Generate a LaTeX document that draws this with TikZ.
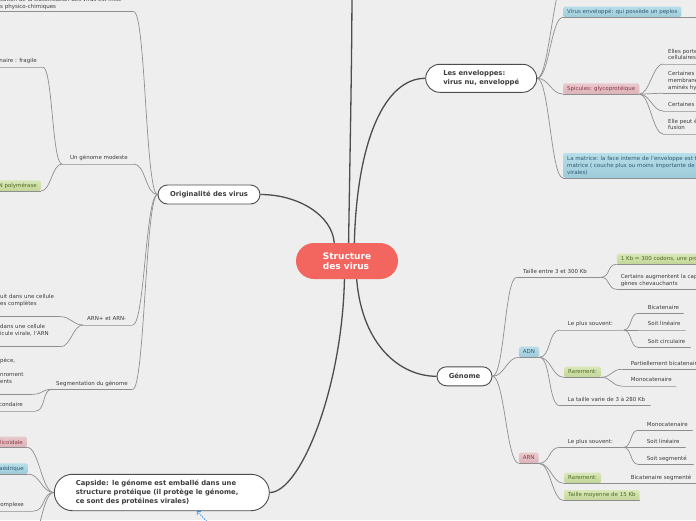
\documentclass[tikz,border=0pt]{standalone}
\usepackage{fontspec}
\setmainfont{DejaVu Sans}
\usetikzlibrary{shapes.misc,arrows.meta,backgrounds}

\definecolor{fond}{HTML}{EEEEEE}
\definecolor{trait}{HTML}{4D4D4D}
\definecolor{gris}{HTML}{8E8E8E}
\definecolor{txt}{HTML}{3C3C3C}
\definecolor{centre}{HTML}{F2665F}
\definecolor{verthaut}{HTML}{D9E7B9}
\definecolor{vertbas}{HTML}{C3D698}
\definecolor{verttxt}{HTML}{4E6B24}
\definecolor{rosehaut}{HTML}{E9C9CD}
\definecolor{rosebas}{HTML}{DDB3B9}
\definecolor{rosetxt}{HTML}{8A3B4A}
\definecolor{bleuhaut}{HTML}{B7DEE9}
\definecolor{bleubas}{HTML}{9ECBD9}
\definecolor{bleutxt}{HTML}{2E5C72}
\definecolor{relbleu}{HTML}{3D8FE0}

\newcommand{\petit}{\fontsize{5.5}{6.8}\selectfont}
\newcommand{\moyen}{\fontsize{6.8}{8.8}\selectfont\bfseries}
\newcommand{\grand}{\fontsize{9}{10.5}\selectfont\bfseries}

\begin{document}
\begin{tikzpicture}[x=1pt, y=-1pt,
    racine/.style={rounded rectangle, fill=centre, text=white, font=\grand, align=left, minimum width=102pt, minimum height=36pt, inner sep=0pt},
    theme/.style={rounded rectangle, draw=trait, line width=0.9pt, fill=white, text=txt, font=\moyen, align=left, inner sep=0pt},
    feuille/.style={font=\petit, text=txt, align=left, inner sep=0pt, text depth=0pt, anchor=south west},
    ligne/.style={draw=gris, line width=0.7pt, line join=round, inner sep=0pt, minimum height=0pt, minimum width=#1, anchor=west},
    boite/.style={font=\petit, rounded corners=1.5pt, inner xsep=4pt, inner ysep=0pt, minimum height=10.5pt, align=left, anchor=south west,
        append after command={(\tikzlastnode.south west) edge[draw=gris, line width=0.6pt] (\tikzlastnode.south east)}},
    vert/.style={boite, top color=verthaut, bottom color=vertbas, text=verttxt},
    rose/.style={boite, top color=rosehaut, bottom color=rosebas, text=rosetxt},
    bleu/.style={boite, top color=bleuhaut, bottom color=bleubas, text=bleutxt},
    lien/.style={draw=gris, line width=0.7pt, to path={.. controls +(#1,0) and +(-#1,0) .. (\tikztotarget)}},
    lien/.default=12,
    lienG/.style={draw=gris, line width=0.7pt, to path={.. controls +(-#1,0) and +(#1,0) .. (\tikztotarget)}},
    lienG/.default=12,
    tronc/.style={draw=trait, line width=1.3pt},
    relation/.style={draw=relbleu, line width=0.8pt, dash pattern=on 1.5pt off 1.2pt, -{Straight Barb[length=2.5pt]}}
]

\useasboundingbox (0,0) rectangle (696,520);
\clip (0,0) rectangle (696,520);

% centre et themes
\node[racine] (structure) at (347,261) {Structure\\des virus};
\node[theme, minimum width=102pt, minimum height=19pt] (orig) at (209,194.5) {Originalité des virus};
\node[theme, minimum width=111pt, minimum height=28pt] (envel) at (481.2,78.3) {Les enveloppes:\\virus nu, enveloppé};
\node[theme, minimum width=55pt, minimum height=19pt] (genome) at (464.5,376.3) {Génome};
\node[theme, minimum width=215pt, minimum height=36.4pt, text width=172pt] (capside) at (161.8,492.5) {Capside: le génome est emballé dans une\\structure protéique (il protège le génome,\\ce sont des protéines virales)};

% branches hors cadre
\coordinate (haut) at (352,-20);
\coordinate (envhaut) at (566,-25);
\coordinate (peplosext) at (705,17.3);
\coordinate (capbas) at (28,545);
\coordinate (relsrc) at (222,537);

% Originalite des virus
\node[ligne=138] (classif) at (-5,11.7) {};
\node[feuille] (t-classif) at (0,8.3) {cation de la classification des virus est mise\\s physico-chimiques};
\node[ligne=47] (fragile) at (-5,67) {};
\node[feuille, anchor=south east] (t-fragile) at (37,63) {naire : fragile};
\node[ligne=71] (modeste) at (62,164) {};
\node[feuille] (t-modeste) at (70,160) {Un génome modeste};
\node[vert, anchor=south east] (polym) at (41,191) {ARN polymérase};
\node[ligne=49] (arnpm) at (83,325) {};
\node[feuille] (t-arnpm) at (87,321) {ARN+ et ARN-};
\node[ligne=65] (arnplus) at (-5,316.7) {};
\node[feuille] (t-arnplus) at (0,312.7) {uit dans une cellule\\es complètes\\\mbox{}};
\node[ligne=65] (arnmoins) at (-5,346.7) {};
\node[feuille] (t-arnmoins) at (0,342.7) {dans une cellule\\icule virale, l'ARN\\\mbox{}};
\node[ligne=80] (segm) at (52,389.3) {};
\node[feuille] (t-segm) at (56,385.3) {Segmentation du génome};
\node[ligne=37] (espece) at (-5,394.3) {};
\node[feuille] (t-espece) at (0,390.3) {pèce,\\\mbox{}\\nroment\\ents\\\mbox{}};
\node[ligne=40] (second) at (-5,411) {};
\node[feuille, anchor=south east] (t-second) at (23,407) {secondaire};

% Capside
\node[rose, anchor=south east] (helic) at (27,447.3) {hélicoïdale};
\node[bleu, anchor=south east] (icosa) at (28,474) {icosaédrique};
\node[ligne=38] (complexe) at (-5,511) {};
\node[feuille, anchor=south east] (t-complexe) at (24,507) {complexe};

% Les enveloppes
\node[bleu] (peplos) at (563,17.3) {Virus enveloppé: qui possède un peplos};
\node[rose] (spicules) at (563,94) {Spicules: glycoprotéique};
\node[ligne=40] (porte) at (663,64) {};
\node[feuille] (t-porte) at (668,60) {Elles portent\\cellulaires};
\node[ligne=40] (membrane) at (663,93.3) {};
\node[feuille] (t-membrane) at (668,89.3) {Certaines\\membranes\\aminés hydrophobes};
\node[ligne=40] (certaines) at (663,111) {};
\node[feuille] (t-certaines) at (668,107) {Certaines};
\node[ligne=40] (fusion) at (663,134) {};
\node[feuille] (t-fusion) at (668,130) {Elle peut être\\fusion};
\node[bleu, inner ysep=3pt] (matrice) at (563,178) {La matrice: la face interne de l'enveloppe est tapissée par une\\matrice ( couche plus ou moins importante de protéines\\virales)};

% Genome
\node[ligne=83.3] (taille) at (516.7,277.3) {};
\node[feuille] (t-taille) at (523,273.3) {Taille entre 3 et 300 Kb};
\node[vert] (kb) at (616.7,264.3) {1 Kb = 300 codons, une protéine};
\node[ligne=85] (chevauch) at (617,289.3) {};
\node[feuille] (t-chevauch) at (620.7,285.3) {Certains augmentent la capacité codante\\gènes chevauchants};
\node[bleu] (adn) at (518.7,357.3) {ADN};
\node[ligne=63] (plusadn) at (560,330) {};
\node[feuille] (t-plusadn) at (567.7,326) {Le plus souvent:};
\node[ligne=45] (bica) at (638,313.3) {};
\node[feuille] (t-bica) at (647.7,309.3) {Bicatenaire};
\node[ligne=47] (lin1) at (638,330) {};
\node[feuille] (t-lin1) at (647.7,326) {Soit linéaire};
\node[ligne=52] (circ) at (638,347.3) {};
\node[feuille] (t-circ) at (647.7,343.3) {Soit circulaire};
\node[vert] (rareadn) at (564,377.3) {Rarement:};
\node[ligne=80] (partiel) at (621.7,369.3) {};
\node[feuille] (t-partiel) at (630.7,365.3) {Partiellement bicatenaire};
\node[ligne=54] (mono1) at (621.7,386) {};
\node[feuille] (t-mono1) at (630.7,382) {Monocatenaire};
\node[ligne=90] (varie) at (560,405.7) {};
\node[feuille] (t-varie) at (567.7,401.7) {La taille varie de 3 à 280 Kb};
\node[rose] (arn) at (518.7,463.3) {ARN};
\node[ligne=63] (plusarn) at (560,447.3) {};
\node[feuille] (t-plusarn) at (567.7,443.3) {Le plus souvent:};
\node[ligne=54] (mono2) at (638,430.3) {};
\node[feuille] (t-mono2) at (646.7,426.3) {Monocatenaire};
\node[ligne=47] (lin2) at (638,447.3) {};
\node[feuille] (t-lin2) at (646.7,443.3) {Soit linéaire};
\node[ligne=55] (segmte) at (638,464.3) {};
\node[feuille] (t-segmte) at (646.7,460.3) {Soit segmenté};
\node[vert] (rarearn) at (564,483.3) {Rarement:};
\node[ligne=79] (bicaseg) at (621,483.3) {};
\node[feuille] (t-bicaseg) at (630.7,479.3) {Bicatenaire segmenté};
\node[vert] (moyenne) at (564,500.7) {Taille moyenne de 15 Kb};

\begin{scope}[on background layer]
\fill[fond] (0,0) rectangle (696,520);
% troncs
\draw[tronc] (structure.125) .. controls (332,215) and (298,194.5) .. (orig.east);
\draw[tronc] (structure.85) .. controls (350,150) and (352,60) .. (haut);
\draw[tronc] (structure.68) .. controls (357,140) and (385,78.3) .. (envel.west);
\draw[tronc] (structure.-62) .. controls (362,345) and (400,376.3) .. (genome.west);
\draw[tronc] (structure.-98) .. controls (342,390) and (300,492.5) .. (capside.east);

% Originalite des virus
\draw[lienG] (orig.west) to (classif.east);
\draw[lienG] (orig.west) to (modeste.east);
\draw[lienG] (orig.west) to (arnpm.east);
\draw[lienG] (orig.west) to (segm.east);
\draw[lienG=10] (modeste.west) to (fragile.east);
\draw[lienG=10] (modeste.west) to (polym.south east);
\draw[lienG=10] (arnpm.west) to (arnplus.east);
\draw[lienG=10] (arnpm.west) to (arnmoins.east);
\draw[lienG=10] (segm.west) to (espece.east);
\draw[lienG=10] (segm.west) to (second.east);

% Capside
\draw[lienG] (capside.west) to (helic.south east);
\draw[lienG] (capside.west) to (icosa.south east);
\draw[lienG] (capside.west) to (complexe.east);
\draw[lienG] (capside.west) to (capbas);

% Les enveloppes
\draw[lien] (envel.east) to (envhaut);
\draw[lien] (envel.east) to (peplos.south west);
\draw[lien] (peplos.south east) -- (peplosext);
\draw[lien] (envel.east) to (spicules.south west);
\draw[lien] (envel.east) to (matrice.south west);
\draw[lien=10] (spicules.south east) to (porte.west);
\draw[lien=10] (spicules.south east) to (membrane.west);
\draw[lien=10] (spicules.south east) to (certaines.west);
\draw[lien=10] (spicules.south east) to (fusion.west);

% Genome
\draw[lien] (genome.east) to (taille.west);
\draw[lien] (genome.east) to (adn.south west);
\draw[lien] (genome.east) to (arn.south west);
\draw[lien=10] (taille.east) to (kb.south west);
\draw[lien=10] (taille.east) to (chevauch.west);
\draw[lien] (adn.south east) to (plusadn.west);
\draw[lien] (adn.south east) to (rareadn.south west);
\draw[lien] (adn.south east) to (varie.west);
\draw[lien=8] (plusadn.east) to (bica.west);
\draw[lien=8] (plusadn.east) to (lin1.west);
\draw[lien=8] (plusadn.east) to (circ.west);
\draw[lien=10] (rareadn.south east) to (partiel.west);
\draw[lien=10] (rareadn.south east) to (mono1.west);
\draw[lien] (arn.south east) to (plusarn.west);
\draw[lien] (arn.south east) to (rarearn.south west);
\draw[lien] (arn.south east) to (moyenne.south west);
\draw[lien=8] (plusarn.east) to (mono2.west);
\draw[lien=8] (plusarn.east) to (lin2.west);
\draw[lien=8] (plusarn.east) to (segmte.west);
\draw[lien] (rarearn.south east) -- (bicaseg.west);
\end{scope}

% relation
\draw[relation] (relsrc) -- (capside.-28);

\end{tikzpicture}
\end{document}
